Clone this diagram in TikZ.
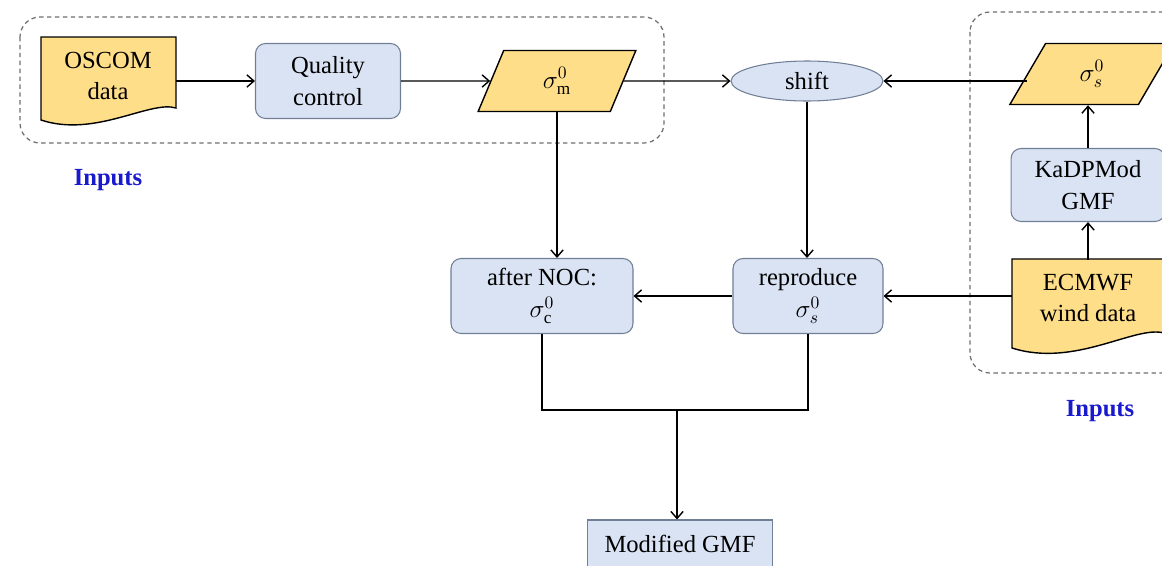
\documentclass[tikz,border=0pt]{standalone}
\usepackage{fontspec}
\setmainfont{Liberation Serif}
\usetikzlibrary{shapes.geometric,arrows.meta}

\definecolor{docyellow}{RGB}{255,222,138}
\definecolor{procblue}{RGB}{218,227,243}
\definecolor{procline}{RGB}{112,126,150}
\definecolor{inputblue}{RGB}{25,25,205}
\definecolor{dashgray}{RGB}{110,110,110}

\begin{document}
\begin{tikzpicture}[x=0.02cm, y=-0.02cm,
    font=\fontsize{14}{18}\selectfont,
    process/.style={draw=procline, fill=procblue, rounded corners=0.2cm, align=center,
        line width=0.6pt, minimum height=1.5cm},
    dataio/.style={trapezium, trapezium stretches=true, draw=black, fill=docyellow,
        line width=0.8pt, minimum height=1.22cm},
    doctext/.style={align=center, minimum height=1.5cm},
    docfill/.style={draw=black, fill=docyellow, line width=0.8pt},
    inputgroup/.style={draw=dashgray, dash pattern=on 2.5pt off 2pt, rounded corners=0.4cm, line width=0.7pt},
    inputlabel/.style={text=inputblue, font=\fontsize{14}{18}\selectfont\bfseries},
    flow/.style={-{Straight Barb[length=4pt,width=7pt]}, line width=0.8pt},
    link/.style={line width=0.8pt}]

    \useasboundingbox (0,0) rectangle (1162,565);
    \clip (0,0) rectangle (1162,565);

    % Dashed groups of the inputs
    \draw[inputgroup] (20,17) rectangle (664,143);
    \draw[inputgroup] (970,12) rectangle (1195,373);
    \node[inputlabel] (inleft) at (108,180) {Inputs};
    \node[inputlabel] (inright) at (1100,411) {Inputs};

    % OSCOM data (document shape)
    \filldraw[docfill] (41,37) -- (176,37) -- (176,108) .. controls (150,100) and (95,138) .. (41,120) -- cycle;
    \node[doctext, minimum width=2.7cm] (oscom) at (108,76) {OSCOM\\data};

    % ECMWF wind data (document shape)
    \filldraw[docfill] (1012,259) -- (1164,259) -- (1164,333) .. controls (1135,325) and (1075,368) .. (1012,348) -- cycle;
    \node[doctext, minimum width=3.04cm] (ecmwf) at (1088,298) {ECMWF\\wind data};

    % Processing boxes
    \node[process, minimum width=2.9cm] (qc) at (328,81) {Quality\\control};
    \node[process, minimum width=3.08cm, minimum height=1.46cm] (kadp) at (1088,185) {KaDPMod\\GMF};
    \node[process, minimum width=3.64cm] (anoc) at (542,296) {after NOC:\\$\sigma^0_{\mathrm{c}}$};
    \node[process, minimum width=3.0cm] (repro) at (808,296) {reproduce\\$\sigma^0_s$};
    \node[process, rounded corners=0pt, minimum width=3.7cm, minimum height=0.96cm] (mgmf) at (680,544) {Modified GMF};

    % Backscatter data
    \node[dataio, trapezium left angle=76, trapezium right angle=104, minimum width=3.16cm] (sm) at (557,81) {$\sigma^0_{\mathrm{m}}$};
    \node[dataio, trapezium left angle=70, trapezium right angle=110, minimum width=3.3cm] (ss) at (1092,74) {$\sigma^0_s$};

    % shift
    \node[ellipse, draw=procline, fill=procblue, line width=0.6pt, inner sep=0pt,
        minimum width=3.04cm, minimum height=0.8cm] (shift) at (807,81) {shift};

    % Connectors
    \draw[flow] (qc.west -| oscom.east) -- (qc.west);
    \draw[flow] (qc.east) -- (sm.west);
    \draw[flow] (sm.east) -- (shift.west);
    \draw[flow] (ss.west |- shift.east) -- (shift.east);
    \draw[flow] (ecmwf.north) -- (kadp.south);
    \draw[flow] (kadp.north) -- (kadp.north |- ss.south);
    \draw[flow] (sm.south) -- (sm.south |- anoc.north);
    \draw[flow] (shift.south) -- (shift.south |- repro.north);
    \draw[flow] (repro.east -| ecmwf.west) -- (repro.east);
    \draw[flow] (repro.west) -- (anoc.east);

    % Merge into the modified GMF
    \coordinate (merge) at (677,410);
    \draw[link] (anoc.south) |- (merge) -| (repro.south);
    \draw[flow] (merge) -- (merge |- mgmf.north);

\end{tikzpicture}
\end{document}
